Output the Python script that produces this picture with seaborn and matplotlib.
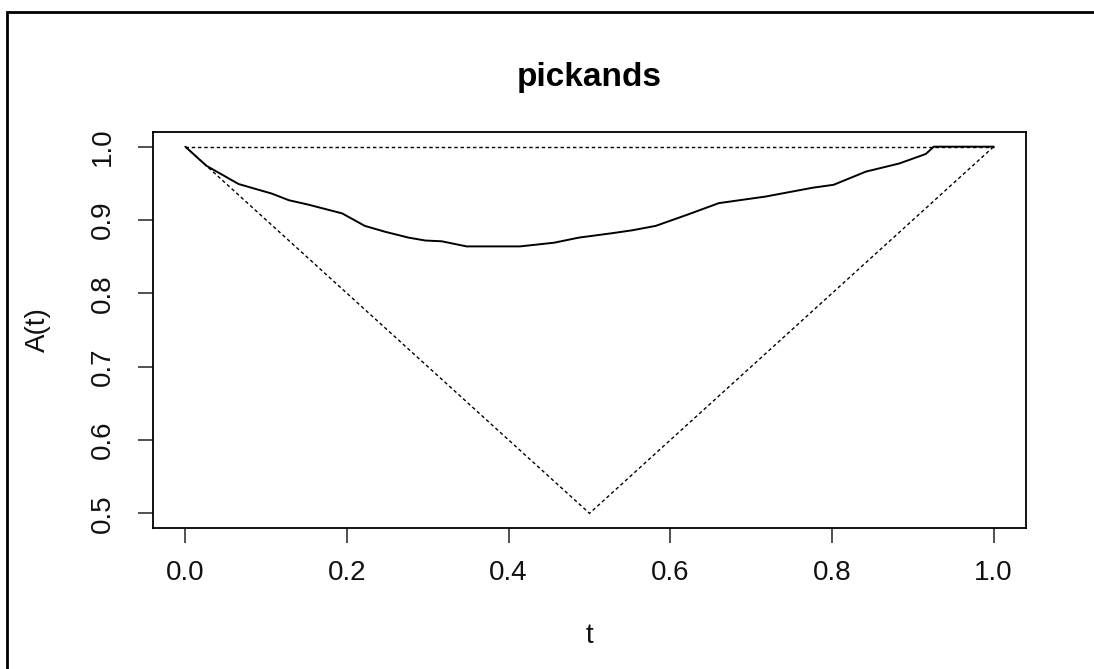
import matplotlib
matplotlib.use("Agg")
import matplotlib.pyplot as plt
import seaborn as sns
import pandas as pd
from matplotlib.patches import Rectangle

# Pickands dependence function estimate
t_vals = [0.0, 0.026, 0.066, 0.107, 0.128, 0.152, 0.194, 0.222, 0.247, 0.276,
          0.297, 0.317, 0.348, 0.414, 0.456, 0.487, 0.528, 0.553, 0.582, 0.623,
          0.660, 0.718, 0.776, 0.802, 0.842, 0.883, 0.916, 0.926, 1.0]
a_vals = [1.000, 0.974, 0.949, 0.936, 0.927, 0.921, 0.909, 0.892, 0.884, 0.876,
          0.872, 0.871, 0.864, 0.864, 0.869, 0.876, 0.882, 0.886, 0.892, 0.908,
          0.923, 0.932, 0.944, 0.948, 0.966, 0.977, 0.990, 1.000, 1.000]

# Bounds: upper bound A=1 and lower bound max(t, 1-t)
upper_t = [0.0, 1.0]
upper_a = [1.0, 1.0]
lower_t = [0.0, 0.5, 1.0]
lower_a = [1.0, 0.5, 1.0]

x_ticks = [0.0, 0.2, 0.4, 0.6, 0.8, 1.0]
y_ticks = [0.5, 0.6, 0.7, 0.8, 0.9, 1.0]

sns.set_style("white")
plt.rcParams['font.family'] = ['Liberation Sans', 'DejaVu Sans']

W, H = 1094, 669
fig = plt.figure(figsize=(W / 100, H / 100), dpi=100)
fig.patch.set_facecolor("white")
ax = fig.add_axes([153 / W, 1 - 528 / H, (1026 - 153) / W, (528 - 132) / H])

dotted = (0, (2.5, 2.0))
df_up = pd.DataFrame({"t": upper_t, "A": upper_a})
df_lo = pd.DataFrame({"t": lower_t, "A": lower_a})
df_cv = pd.DataFrame({"t": t_vals, "A": a_vals})
sns.lineplot(data=df_up, x="t", y="A", ax=ax, color="black", lw=1.0,
             linestyle=dotted, sort=False, estimator=None)
sns.lineplot(data=df_lo, x="t", y="A", ax=ax, color="black", lw=1.0,
             linestyle=dotted, sort=False, estimator=None)
sns.lineplot(data=df_cv, x="t", y="A", ax=ax, color="black", lw=1.4,
             sort=False, estimator=None)

ax.set_xlim(-0.04, 1.04)
ax.set_ylim(0.48, 1.02)
ax.set_xticks(x_ticks)
ax.set_xticklabels([f"{v:.1f}" for v in x_ticks])
ax.set_yticks(y_ticks)
ax.set_yticklabels([f"{v:.1f}" for v in y_ticks], rotation=90, va="center")

for s in ax.spines.values():
    s.set_visible(True)
    s.set_color("black")
    s.set_linewidth(1.3)

ax.tick_params(axis="both", which="major", direction="out", length=11,
               width=1.1, color="#222222", labelcolor="#111111", labelsize=20,
               left=True, bottom=True)
ax.tick_params(axis="x", pad=12)
ax.tick_params(axis="y", pad=16)

ax.set_xlabel("t", fontsize=20, color="#111111", labelpad=27)
ax.set_ylabel("A(t)", fontsize=20, color="#111111", labelpad=28)
ax.set_title("pickands", fontsize=24, fontweight="bold", color="black", pad=33)

# outer frame of the device region
fig.patches.append(Rectangle((7 / W, -0.05), 1.2, 1 - 12 / H + 0.05,
                             transform=fig.transFigure, fill=False,
                             edgecolor="black", lw=2.0))

fig.savefig("out.png", dpi=100, facecolor="white")
